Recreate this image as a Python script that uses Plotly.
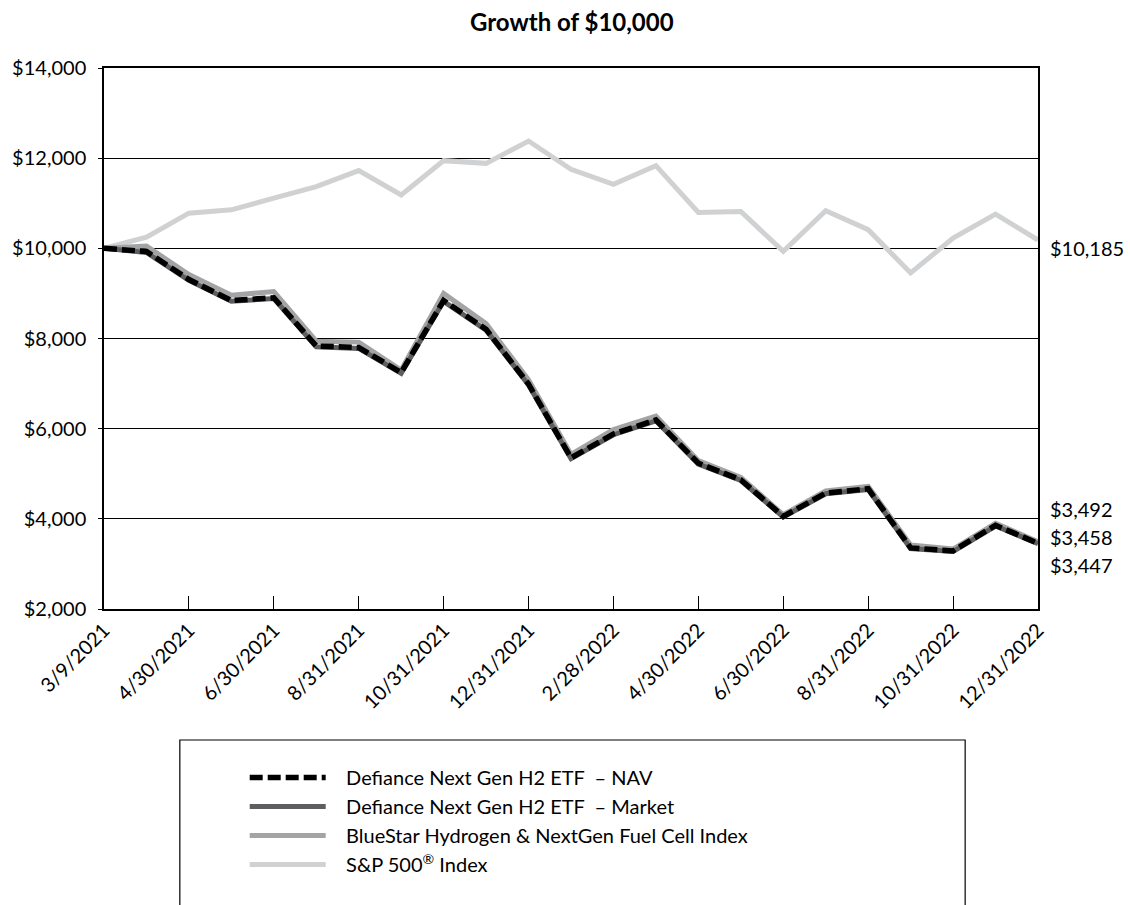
import plotly.graph_objects as go

# Month-end valuation dates (fund inception 3/9/2021)
dates = [
    "3/9/2021", "3/31/2021", "4/30/2021", "5/31/2021", "6/30/2021", "7/31/2021",
    "8/31/2021", "9/30/2021", "10/31/2021", "11/30/2021", "12/31/2021",
    "1/31/2022", "2/28/2022", "3/31/2022", "4/30/2022", "5/31/2022",
    "6/30/2022", "7/31/2022", "8/31/2022", "9/30/2022", "10/31/2022",
    "11/30/2022", "12/31/2022",
]
tick_dates = [
    "3/9/2021", "4/30/2021", "6/30/2021", "8/31/2021", "10/31/2021", "12/31/2021",
    "2/28/2022", "4/30/2022", "6/30/2022", "8/31/2022", "10/31/2022", "12/31/2022",
]

# Growth of a hypothetical $10,000 investment
nav = [10000, 9930, 9308, 8844, 8903, 7834, 7800, 7245, 8844, 8203, 6988,
       5352, 5883, 6192, 5233, 4866, 4055, 4571, 4667, 3355, 3289, 3856, 3458]
market = [10000, 9910, 9290, 8825, 8885, 7815, 7780, 7225, 8825, 8185, 6970,
          5335, 5865, 6175, 5215, 4850, 4040, 4555, 4650, 3340, 3275, 3840, 3447]
index = [10000, 10050, 9420, 8960, 9040, 7940, 7920, 7300, 9000, 8330, 7080,
         5430, 5980, 6280, 5290, 4920, 4090, 4620, 4720, 3420, 3330, 3900, 3492]
sp500 = [10000, 10250, 10780, 10855, 11112, 11370, 11724, 11186, 11945, 11885, 12380,
         11753, 11421, 11834, 10796, 10818, 9934, 10833, 10413, 9454, 10228, 10758, 10185]

names = {
    "nav": "Defiance Next Gen H2 ETF  – NAV",
    "market": "Defiance Next Gen H2 ETF  – Market",
    "index": "BlueStar Hydrogen & NextGen Fuel Cell Index",
    "sp500": "S&P 500<sup>®</sup> Index",
}

FONT = "Lato"
FS = 20
PAD = "\u00a0" * 3  # space between legend swatch and label
x_idx = list(range(len(dates)))

fig = go.Figure()
fig.add_trace(go.Scatter(x=x_idx, y=sp500, name=PAD + names["sp500"], mode="lines",
                         line=dict(color="#D0D1D3", width=5)))
fig.add_trace(go.Scatter(x=x_idx, y=index, name=PAD + names["index"], mode="lines",
                         line=dict(color="#A3A4A6", width=5)))
fig.add_trace(go.Scatter(x=x_idx, y=market, name=PAD + names["market"], mode="lines",
                         line=dict(color="#5E5E60", width=5)))
fig.add_trace(go.Scatter(x=x_idx, y=nav, name=PAD + names["nav"], mode="lines",
                         line=dict(color="#000000", width=5.5, dash="13px,5px")))

# Ending-value labels to the right of the plot
end_labels = [
    (sp500[-1], -8),
    (index[-1], 33),
    (nav[-1], 6),
    (market[-1], -21),
]
for val, shift in end_labels:
    fig.add_annotation(x=x_idx[-1], y=val, text=f"${val:,.0f}", showarrow=False,
                       xanchor="left", yanchor="middle", xshift=10, yshift=shift,
                       font=dict(family=FONT, size=FS, color="#000000"))

# Frame around the legend
fig.add_shape(type="rect", xref="paper", yref="paper",
              x0=(178 - 102) / 936, x1=(965 - 102) / 936,
              y0=-0.62, y1=(609 - 740) / 541,
              line=dict(color="#000000", width=1.2), fillcolor="rgba(0,0,0,0)")

fig.update_layout(
    width=1130, height=905,
    margin=dict(l=102, r=92, t=68, b=296),
    paper_bgcolor="white", plot_bgcolor="white",
    font=dict(family=FONT, size=FS, color="#000000"),
    title=dict(text="<b>Growth of $10,000</b>", x=566 / 1130, xanchor="center",
               xref="paper", y=1 - 23 / 905, yanchor="middle",
               font=dict(family=FONT, size=24, color="#000000")),
    showlegend=True,
    legend=dict(traceorder="reversed", x=(243 - 102) / 936, xanchor="left",
                y=(609 - 758) / 541, yanchor="top", bgcolor="rgba(0,0,0,0)",
                font=dict(family=FONT, size=FS, color="#000000"),
                itemwidth=76, tracegroupgap=0),
    xaxis=dict(
        range=[0, len(dates) - 1],
        tickmode="array", tickvals=[dates.index(d) for d in tick_dates],
        ticktext=tick_dates, tickangle=-45,
        ticks="inside", ticklen=13, tickwidth=1.2, tickcolor="#000000",
        showline=True, linecolor="#000000", linewidth=1.5, mirror=True,
        showgrid=False, zeroline=False,
        tickfont=dict(family=FONT, size=FS, color="#000000"),
    ),
    yaxis=dict(
        range=[2000, 14000], tickmode="array",
        tickvals=[2000, 4000, 6000, 8000, 10000, 12000, 14000],
        ticktext=["$2,000", "$4,000", "$6,000", "$8,000", "$10,000", "$12,000", "$14,000"],
        ticks="outside", ticklen=4, tickwidth=1.2, tickcolor="#000000",
        ticklabelstandoff=8,
        showline=True, linecolor="#000000", linewidth=1.5, mirror=True,
        showgrid=True, gridcolor="#000000", gridwidth=1.2, zeroline=False,
        tickfont=dict(family=FONT, size=FS, color="#000000"),
    ),
)

fig.write_html("out.html")
